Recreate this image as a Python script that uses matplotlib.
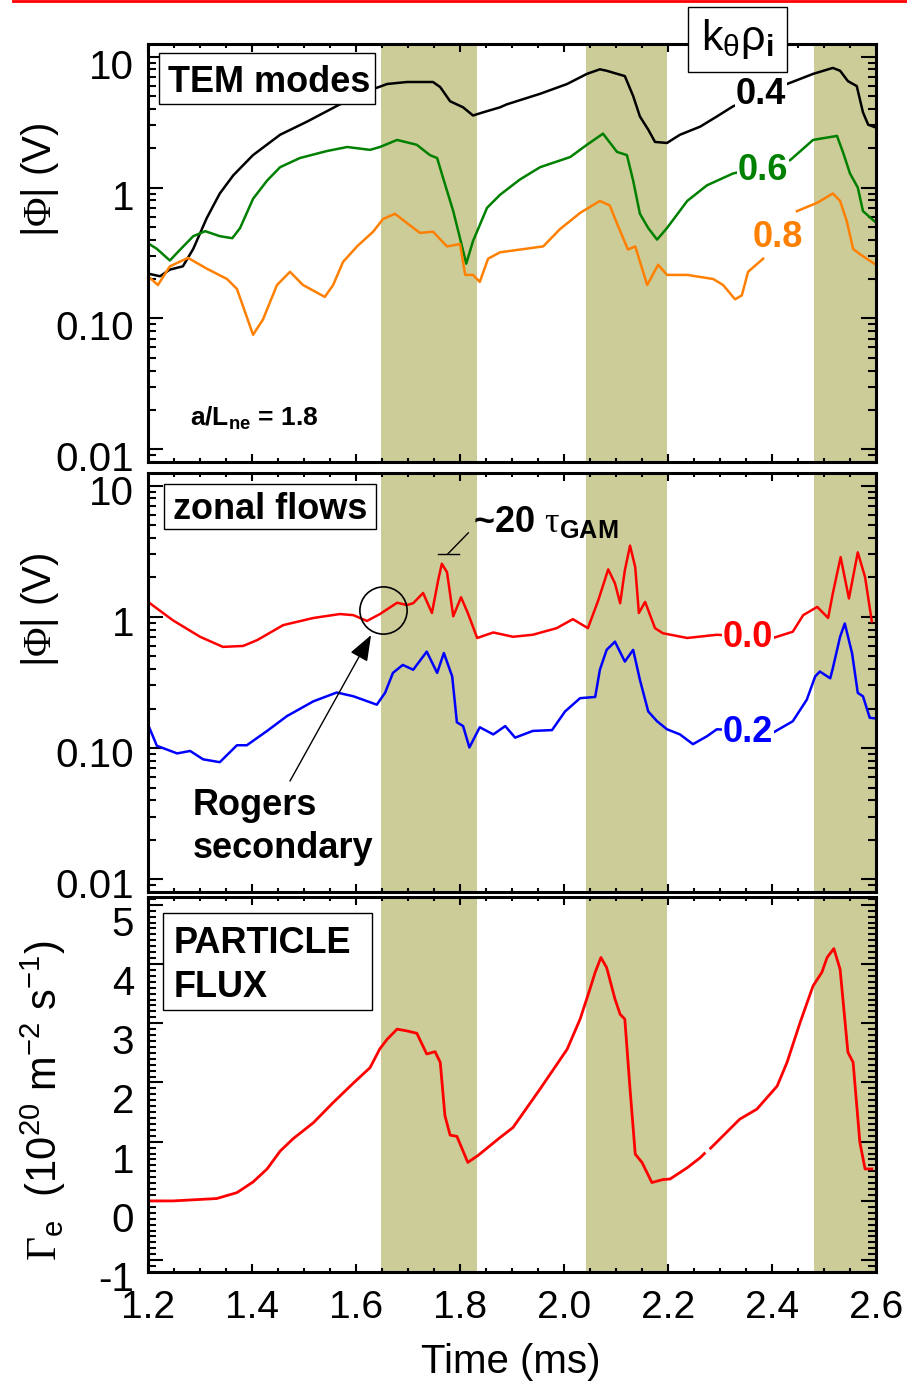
import matplotlib.pyplot as plt
import numpy as np
from matplotlib.patches import Rectangle
from matplotlib.lines import Line2D
from matplotlib.ticker import MultipleLocator, LogLocator, NullFormatter
from matplotlib.transforms import ScaledTranslation

plt.rcParams['font.family'] = 'Liberation Sans'
plt.rcParams['mathtext.fontset'] = 'custom'
plt.rcParams['mathtext.rm'] = 'Liberation Sans'
plt.rcParams['mathtext.sf'] = 'Liberation Sans'
plt.rcParams['mathtext.bf'] = 'Liberation Sans:bold'
plt.rcParams['mathtext.cal'] = 'Liberation Serif'
plt.rcParams['mathtext.default'] = 'rm'
plt.rcParams['axes.unicode_minus'] = False

nan = np.nan

# bursts (ms) shaded on every panel
bursts = [(1.648, 1.832), (2.042, 2.198), (2.481, 2.6)]

# TEM modes, |Phi| (V)
t_k04 = [1.200, 1.223, 1.242, 1.267, 1.287, 1.313, 1.338, 1.364, 1.402, 1.454, 1.506, 1.569,
         1.633, 1.660, 1.698, 1.748, 1.762, 1.781, 1.806, 1.825, 1.844, 1.877, 1.890, 1.954,
         2.006, 2.044, 2.069, 2.082, 2.117, 2.133, 2.146, 2.162, 2.175, 2.198, 2.223, 2.262,
         2.294, 2.325, 2.429, 2.479, 2.517, 2.531, 2.546, 2.563, 2.575, 2.585, 2.600]
phi_k04 = [0.22, 0.21, 0.236, 0.25, 0.34, 0.585, 0.90, 1.24, 1.77, 2.53, 3.19, 4.32,
           5.65, 6.18, 6.4, 6.4, 5.85, 4.56, 4.1, 3.55, 3.75, 4.1, 4.32, 5.2,
           6.18, 7.38, 8.0, 7.8, 7.1, 5.0, 3.49, 2.77, 2.23, 2.19, 2.53, 2.92,
           3.49, 4.17, 6.18, 7.38, 8.2, 7.8, 6.5, 5.96, 3.75, 3.02, 2.87]

t_k06 = [1.200, 1.217, 1.242, 1.262, 1.287, 1.310, 1.338, 1.362, 1.377, 1.402, 1.429, 1.454,
         1.492, 1.544, 1.583, 1.627, 1.646, 1.679, 1.717, 1.742, 1.756, 1.767, 1.787, 1.800,
         1.812, 1.825, 1.852, 1.877, 1.915, 1.954, 2.012, 2.044, 2.075, 2.102, 2.121, 2.133,
         2.146, 2.162, 2.179, 2.198, 2.237, 2.275, 2.325, 2.435, 2.479, 2.525, 2.537, 2.550,
         2.565, 2.575, 2.600]
phi_k06 = [0.375, 0.34, 0.277, 0.336, 0.425, 0.464, 0.425, 0.41, 0.49, 0.82, 1.13, 1.43,
           1.68, 1.90, 2.04, 1.94, 2.04, 2.31, 2.12, 1.77, 1.68, 1.20, 0.66, 0.41,
           0.262, 0.39, 0.70, 0.88, 1.15, 1.43, 1.71, 2.12, 2.58, 1.87, 1.77, 1.13,
           0.63, 0.49, 0.40, 0.49, 0.79, 1.04, 1.28, 1.62, 2.31, 2.48, 1.84, 1.28,
           1.00, 0.66, 0.54]

t_k08 = [1.200, 1.219, 1.242, 1.277, 1.313, 1.352, 1.371, 1.402, 1.421, 1.448, 1.473, 1.498,
         1.540, 1.556, 1.575, 1.602, 1.633, 1.652, 1.675, 1.698, 1.723, 1.748, 1.775, 1.800,
         1.810, 1.825, 1.838, 1.854, 1.877, 1.960, 1.992, 2.031, 2.069, 2.088, 2.102, 2.123,
         2.137, 2.160, 2.181, 2.198, 2.237, 2.287, 2.306, 2.329, 2.342, 2.354, 2.383, 2.410,
         2.448, 2.487, 2.517, 2.531, 2.544, 2.556, 2.569, 2.600]
phi_k08 = [0.21, 0.18, 0.25, 0.29, 0.24, 0.20, 0.168, 0.075, 0.098, 0.18, 0.227, 0.18,
           0.146, 0.18, 0.27, 0.355, 0.46, 0.575, 0.63, 0.535, 0.45, 0.46, 0.355, 0.37,
           0.215, 0.215, 0.19, 0.286, 0.32, 0.355, 0.48, 0.64, 0.79, 0.73, 0.53, 0.336,
           0.355, 0.18, 0.257, 0.215, 0.215, 0.20, 0.18, 0.14, 0.15, 0.227, 0.286, nan,
           0.66, 0.765, 0.90, 0.79, 0.55, 0.34, 0.31, 0.257]

# zonal flows, |Phi| (V)
t_k00 = [1.200, 1.248, 1.300, 1.344, 1.383, 1.410, 1.460, 1.518, 1.569, 1.595, 1.621, 1.646,
         1.679, 1.698, 1.710, 1.729, 1.746, 1.758, 1.765, 1.775, 1.787, 1.802, 1.815, 1.833,
         1.864, 1.902, 1.940, 1.986, 2.017, 2.046, 2.066, 2.085, 2.098, 2.108, 2.117, 2.127,
         2.137, 2.144, 2.156, 2.175, 2.190, 2.237, 2.294, 2.402, 2.440, 2.460, 2.487, 2.508,
         2.517, 2.532, 2.548, 2.565, 2.579, 2.592]
phi_k00 = [1.30, 0.94, 0.705, 0.59, 0.60, 0.665, 0.865, 0.98, 1.05, 1.03, 0.93, 1.05,
           1.28, 1.23, 1.27, 1.52, 1.07, 1.90, 2.54, 2.19, 1.01, 1.41, 1.07, 0.69,
           0.76, 0.705, 0.73, 0.82, 0.96, 0.82, 1.34, 2.30, 1.80, 1.27, 2.26, 3.49,
           2.39, 1.07, 1.30, 0.82, 0.75, 0.69, 0.73, 0.69, 0.77, 1.03, 1.19, 0.98,
           1.51, 2.85, 1.38, 3.10, 2.01, 0.92]

t_k02 = [1.200, 1.217, 1.256, 1.281, 1.306, 1.338, 1.371, 1.390, 1.429, 1.467, 1.518, 1.563,
         1.595, 1.640, 1.656, 1.671, 1.690, 1.710, 1.736, 1.756, 1.769, 1.785, 1.794, 1.806,
         1.818, 1.838, 1.864, 1.887, 1.906, 1.940, 1.977, 2.002, 2.031, 2.060, 2.069, 2.082,
         2.098, 2.117, 2.133, 2.146, 2.162, 2.179, 2.198, 2.223, 2.248, 2.275, 2.294, 2.402,
         2.440, 2.467, 2.483, 2.492, 2.512, 2.517, 2.531, 2.540, 2.554, 2.565, 2.575, 2.588,
         2.600]
phi_k02 = [0.151, 0.104, 0.091, 0.095, 0.082, 0.078, 0.105, 0.105, 0.135, 0.175, 0.227, 0.265,
           0.248, 0.214, 0.264, 0.374, 0.43, 0.395, 0.543, 0.374, 0.53, 0.351, 0.157, 0.147,
           0.101, 0.144, 0.127, 0.147, 0.12, 0.135, 0.137, 0.19, 0.24, 0.245, 0.395, 0.56,
           0.647, 0.456, 0.56, 0.331, 0.19, 0.16, 0.139, 0.127, 0.107, 0.123, 0.139, 0.131,
           0.16, 0.234, 0.351, 0.383, 0.34, 0.406, 0.705, 0.89, 0.528, 0.263, 0.248, 0.17,
           0.168]

# particle flux, 1e20 m^-2 s^-1
t_flux = [1.200, 1.248, 1.332, 1.371, 1.402, 1.429, 1.454, 1.479, 1.518, 1.556, 1.595, 1.627,
          1.646, 1.660, 1.679, 1.698, 1.717, 1.736, 1.752, 1.762, 1.771, 1.781, 1.794, 1.815,
          1.835, 1.877, 1.902, 1.954, 2.006, 2.031, 2.050, 2.060, 2.071, 2.082, 2.098, 2.108,
          2.117, 2.127, 2.137, 2.150, 2.169, 2.190, 2.204, 2.237, 2.262, 2.270, 2.276, 2.282,
          2.338, 2.371, 2.410, 2.429, 2.454, 2.479, 2.496, 2.506, 2.519, 2.531, 2.546, 2.556,
          2.569, 2.579, 2.592]
flux = [0.0, 0.0, 0.04, 0.14, 0.32, 0.54, 0.84, 1.05, 1.32, 1.66, 1.99, 2.25,
        2.57, 2.73, 2.90, 2.87, 2.83, 2.48, 2.52, 2.34, 1.44, 1.11, 1.09, 0.65,
        0.77, 1.07, 1.24, 1.89, 2.56, 3.07, 3.58, 3.86, 4.11, 3.94, 3.41, 3.15,
        3.07, 1.89, 0.79, 0.65, 0.31, 0.36, 0.37, 0.56, 0.73, 0.80, nan, 0.89,
        1.38, 1.55, 1.94, 2.34, 3.01, 3.63, 3.86, 4.11, 4.26, 3.91, 2.51, 2.34,
        0.99, 0.54, 0.54]

log_ticks = [0.01, 0.1, 1, 10]
log_labels = ['0.01', '0.10', '1', '10']
flux_ticks = [-1, 0, 1, 2, 3, 4, 5]
time_ticks = [1.2, 1.4, 1.6, 1.8, 2.0, 2.2, 2.4, 2.6]

fig = plt.figure(figsize=(9.07, 13.82), dpi=100)
ax1 = fig.add_axes([0.1632, 0.6657, 0.8026, 0.3025])
ax2 = fig.add_axes([0.1632, 0.3546, 0.8026, 0.3032])
ax3 = fig.add_axes([0.1632, 0.0796, 0.8026, 0.2713])


def style(ax):
    ax.set_xlim(1.2, 2.6)
    for a, b in bursts:
        ax.axvspan(a, b, color='#cccc99', lw=0, zorder=0)
    for s in ax.spines.values():
        s.set_linewidth(2.2)
        s.set_zorder(4)
    ax.xaxis.set_major_locator(MultipleLocator(0.2))
    ax.xaxis.set_minor_locator(MultipleLocator(0.05))
    ax.tick_params(which='both', direction='in', top=True, right=True, width=1.5)
    ax.tick_params(axis='x', which='major', length=6, labelsize=28, pad=13)
    ax.tick_params(axis='x', which='minor', length=3)
    ax.tick_params(axis='y', which='major', length=11, labelsize=29, pad=10)
    ax.tick_params(axis='y', which='minor', length=5.5)


def log_panel(ax):
    ax.set_yscale('log')
    ax.set_ylim(0.008, 12.5)
    ax.set_yticks(log_ticks, log_labels)
    ax.yaxis.set_minor_locator(LogLocator(subs=np.arange(2, 10)))
    ax.yaxis.set_minor_formatter(NullFormatter())
    ax.tick_params(axis='x', labelbottom=False)


def drop_ylabels(ax, px):
    # tick numbers sit a little below their tick marks
    off = ScaledTranslation(0, -px / 100, fig.dpi_scale_trans)
    for t in ax.get_yticklabels():
        t.set_transform(t.get_transform() + off)


for ax in (ax1, ax2, ax3):
    style(ax)
log_panel(ax1)
log_panel(ax2)

# top: TEM modes
ax1.plot(t_k04, phi_k04, color='black', lw=1.8)
ax1.plot(t_k06, phi_k06, color='#008000', lw=1.8)
ax1.plot(t_k08, phi_k08, color='#ff8000', lw=1.8)
lab = dict(fontsize=26, fontweight='bold', ha='center', va='center',
           bbox=dict(fc='white', ec='none', pad=0.5))
ax1.text(2.379, 5.17, '0.4', color='black', **lab)
ax1.text(2.383, 1.35, '0.6', color='#008000', **lab)
ax1.text(2.412, 0.417, '0.8', color='#ff8000', fontsize=26, fontweight='bold',
         ha='center', va='center')
ax1.add_patch(Rectangle((0.015, 0.856), 0.297, 0.122, transform=ax1.transAxes,
                        fc='white', ec='black', lw=1, zorder=5))
ax1.text(0.0275, 0.885, 'TEM modes', transform=ax1.transAxes, fontsize=26,
         fontweight='bold', va='baseline', zorder=6)
ax1.text(0.058, 0.105, 'a/L$_{\\mathbf{ne}}$ = 1.8', transform=ax1.transAxes,
         fontsize=19, fontweight='bold', va='center')
ax1.add_patch(Rectangle((0.742, 0.933), 0.136, 0.155, transform=ax1.transAxes,
                        fc='white', ec='black', lw=1, zorder=5, clip_on=False))
ax1.text(0.81, 1.012, 'k$_{\\theta}$\u03c1$_{\\mathbf{i}}$', transform=ax1.transAxes,
         fontsize=31, ha='center', va='center', zorder=6)

# middle: zonal flows
ax2.plot(t_k00, phi_k00, color='#ff0000', lw=1.8)
ax2.plot(t_k02, phi_k02, color='#0000ff', lw=1.8)
ax2.text(2.354, 0.70, '0.0', color='#ff0000', **lab)
ax2.text(2.354, 0.1315, '0.2', color='#0000ff', **lab)
ax2.add_patch(Rectangle((0.022, 0.866), 0.291, 0.108, transform=ax2.transAxes,
                        fc='white', ec='black', lw=1, zorder=5))
ax2.text(0.034, 0.890, 'zonal flows', transform=ax2.transAxes, fontsize=26,
         fontweight='bold', va='baseline', zorder=6)
ax2.text(0.446, 0.859, '~20 $\\mathcal{\\tau}_{\\mathbf{GAM}}$', transform=ax2.transAxes,
         fontsize=26, fontweight='bold', va='baseline')
ax2.plot([0.398, 0.427], [0.807, 0.807], transform=ax2.transAxes, color='black', lw=1)
ax2.plot([0.412, 0.440], [0.807, 0.857], transform=ax2.transAxes, color='black', lw=1)
ax2.plot(1.652, 1.12, 'o', ms=34, mfc='none', mec='black', mew=1.2)
ax2.annotate('', xy=(1.629, 0.726), xytext=(1.473, 0.056),
             arrowprops=dict(arrowstyle='-|>,head_length=0.8,head_width=0.3',
                             mutation_scale=20, color='black', lw=1,
                             shrinkA=0, shrinkB=0))
ax2.text(0.0618, 0.184, 'Rogers', transform=ax2.transAxes, fontsize=26,
         fontweight='bold', va='baseline')
ax2.text(0.0618, 0.081, 'secondary', transform=ax2.transAxes, fontsize=26,
         fontweight='bold', va='baseline')

# bottom: particle flux
ax3.plot(t_flux, flux, color='#ff0000', lw=2)
ax3.set_ylim(-1.2, 5.13)
ax3.set_yticks(flux_ticks, [str(v) for v in flux_ticks])
ax3.yaxis.set_minor_locator(MultipleLocator(0.1))
ax3.set_xticks(time_ticks, ['%.1f' % v for v in time_ticks])
ax3.add_patch(Rectangle((0.0206, 0.699), 0.287, 0.258, transform=ax3.transAxes,
                        fc='white', ec='black', lw=1, zorder=5))
ax3.text(0.0357, 0.851, 'PARTICLE', transform=ax3.transAxes, fontsize=26,
         fontweight='bold', va='baseline', zorder=6)
ax3.text(0.0357, 0.733, 'FLUX', transform=ax3.transAxes, fontsize=26,
         fontweight='bold', va='baseline', zorder=6)

drop_ylabels(ax1, 7)
drop_ylabels(ax2, 4)
drop_ylabels(ax3, 16)

# axis titles
fig.text(0.044, 0.8698, '|$\\mathcal{\\Phi}$| (V)', rotation=90, fontsize=29,
         ha='center', va='center')
fig.text(0.044, 0.5586, '|$\\mathcal{\\Phi}$| (V)', rotation=90, fontsize=29,
         ha='center', va='center')
fig.text(0.048, 0.2033, '$\\mathcal{\\Gamma}_{e}$  (10$^{20}$ m$^{-2}$ s$^{-1}$)',
         rotation=90, fontsize=30, ha='center', va='center')
fig.text(0.563, 0.0065, 'Time (ms)', fontsize=29, ha='center', va='baseline')

fig.add_artist(Line2D([0.014, 1.0], [0.9993, 0.9993], color='red', lw=2))

fig.savefig('out.png', dpi=100)
